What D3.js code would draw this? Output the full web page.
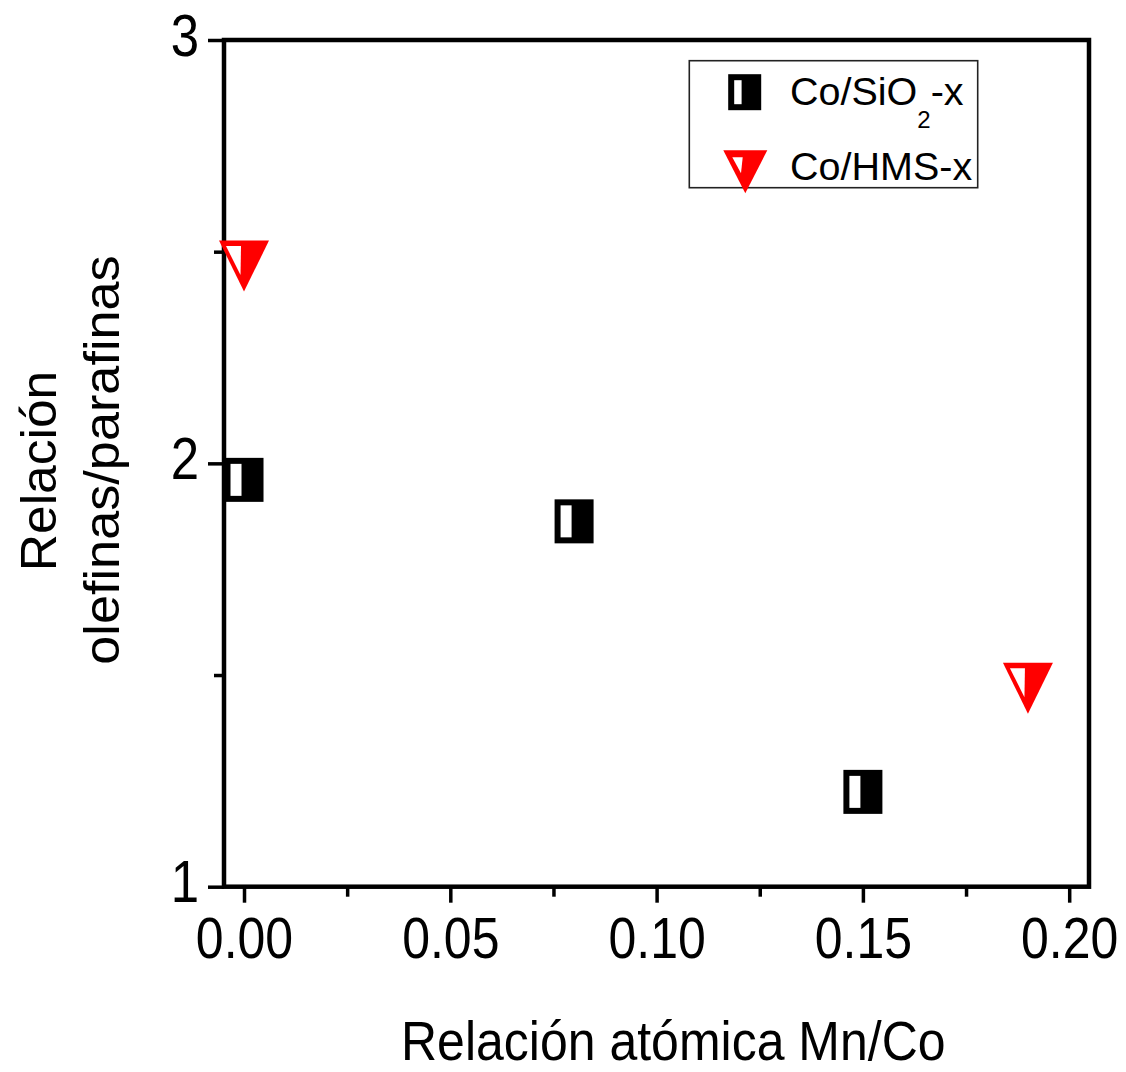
<!DOCTYPE html>
<html>
<head>
<meta charset="utf-8">
<script src="https://cdn.jsdelivr.net/npm/d3@7"></script>
<style>
  html, body { margin: 0; padding: 0; background: #ffffff; }
  svg { display: block; }
  text { font-family: "Liberation Sans", Arial, sans-serif; fill: #000; }
</style>
</head>
<body>
<svg id="chart" width="1126" height="1072"></svg>
<script>
// ---------------- data ----------------
const seriesNames = ["Co/SiO2-x", "Co/HMS-x"];
const sio2X = [0.00, 0.08, 0.15];
const sio2Y = [1.961, 1.863, 1.224];
const hmsX = [0.00, 0.19];
const hmsY = [2.466, 1.469];
const xMajorTicks = [0.00, 0.05, 0.10, 0.15, 0.20];
const xMinorTicks = [0.025, 0.075, 0.125, 0.175];
const yMajorTicks = [1, 2, 3];
const yMinorTicks = [1.5, 2.5];
const xTitle = "Relación atómica Mn/Co";
const yTitleLines = ["Relación", "olefinas/parafinas"];

// ---------------- layout ----------------
const svg = d3.select("#chart");
const L = 224, R = 1089, T = 40, B = 886.7;
const x = d3.scaleLinear().domain([-0.00485, 0.2048]).range([L, R]);
const y = d3.scaleLinear().domain([1, 3]).range([B, T]);

svg.append("rect").attr("width", 1126).attr("height", 1072).attr("fill", "#fff");

// x axis major
const gx = svg.append("g").attr("transform", `translate(0,${B})`)
  .call(d3.axisBottom(x).tickValues(xMajorTicks).tickFormat(d3.format(".2f")).tickSize(16).tickSizeOuter(0));
gx.select(".domain").remove();
gx.selectAll(".tick line").attr("stroke", "#000").attr("stroke-width", 3.5);
gx.selectAll(".tick text")
  .attr("y", null).attr("dy", null)
  .attr("transform", "translate(0,71.6) scale(1,1.15)")
  .attr("font-size", 50).attr("font-family", "Liberation Sans, Arial, sans-serif")
  .attr("fill", "#000").attr("text-anchor", "middle");

// x axis minor
const gxm = svg.append("g").attr("transform", `translate(0,${B})`)
  .call(d3.axisBottom(x).tickValues(xMinorTicks).tickFormat("").tickSize(10).tickSizeOuter(0));
gxm.select(".domain").remove();
gxm.selectAll(".tick line").attr("stroke", "#000").attr("stroke-width", 3.5);

// y axis major
const gy = svg.append("g").attr("transform", `translate(${L},0)`)
  .call(d3.axisLeft(y).tickValues(yMajorTicks).tickFormat(d3.format("d")).tickSize(16).tickSizeOuter(0));
gy.select(".domain").remove();
gy.selectAll(".tick line").attr("stroke", "#000").attr("stroke-width", 3.5);
gy.selectAll(".tick text")
  .attr("x", null).attr("dy", null)
  .attr("transform", "translate(-25,15) scale(1,1.15)")
  .attr("font-size", 51).attr("font-family", "Liberation Sans, Arial, sans-serif")
  .attr("fill", "#000").attr("text-anchor", "end");

// y axis minor
const gym = svg.append("g").attr("transform", `translate(${L},0)`)
  .call(d3.axisLeft(y).tickValues(yMinorTicks).tickFormat("").tickSize(10).tickSizeOuter(0));
gym.select(".domain").remove();
gym.selectAll(".tick line").attr("stroke", "#000").attr("stroke-width", 3.5);

// frame
svg.append("rect")
  .attr("x", L).attr("y", T).attr("width", R - L).attr("height", B - T)
  .attr("fill", "none").attr("stroke", "#000").attr("stroke-width", 4.5);

// ---------------- marker helpers ----------------
function halfSquare(g, cx, cy, w, h, bw, iw) {
  g.append("rect").attr("x", cx - w / 2).attr("y", cy - h / 2)
    .attr("width", w).attr("height", h).attr("fill", "#000");
  g.append("rect").attr("x", cx - w / 2 + bw).attr("y", cy - h / 2 + bw)
    .attr("width", iw).attr("height", h - 2 * bw).attr("fill", "#fff");
}
function halfTriangle(g, cx, cy, w, h, inner) {
  g.append("path")
    .attr("d", `M${cx - w / 2},${cy - h / 2}L${cx + w / 2},${cy - h / 2}L${cx},${cy + h / 2}Z`)
    .attr("fill", "#ff0000");
  g.append("path")
    .attr("d", `M${cx + inner[0][0]},${cy + inner[0][1]}L${cx + inner[1][0]},${cy + inner[1][1]}L${cx + inner[2][0]},${cy + inner[2][1]}Z`)
    .attr("fill", "#fff");
}

// ---------------- data marks ----------------
const gm = svg.append("g");
sio2X.forEach((v, i) => halfSquare(gm, x(v), y(sio2Y[i]), 39, 44, 6, 11));
hmsX.forEach((v, i) => halfTriangle(gm, x(v), y(hmsY[i]), 50, 51, [[-18, -20], [-3, -20], [-3.5, 9]]));

// ---------------- legend ----------------
const lg = svg.append("g");
lg.append("rect").attr("x", 689.3).attr("y", 60.7).attr("width", 288.4).attr("height", 127)
  .attr("fill", "#fff").attr("stroke", "#222").attr("stroke-width", 1.6);
halfSquare(lg, 744.7, 92.2, 33, 36, 6, 7.4);
halfTriangle(lg, 745.3, 171.7, 44, 43, [[-13, -14.4], [-2.6, -14.4], [-4.3, 1.6]]);
const t1 = lg.append("text").attr("x", 790).attr("y", 105).attr("font-size", 39.5);
t1.append("tspan").text("Co/SiO");
t1.append("tspan").attr("font-size", 24).attr("dy", 23).text("2");
t1.append("tspan").attr("dy", -23).text("-x");
lg.append("text").attr("x", 790).attr("y", 180).attr("font-size", 39.5).text("Co/HMS-x");

// ---------------- axis titles ----------------
svg.append("text")
  .attr("transform", "translate(401,1060) scale(1,1.12)")
  .attr("font-size", 50).attr("text-anchor", "start").text(xTitle);

svg.append("text")
  .attr("transform", "translate(56,471) rotate(-90) scale(1.03,1)")
  .attr("font-size", 50).attr("text-anchor", "middle").text(yTitleLines[0]);
svg.append("text")
  .attr("transform", "translate(119,460) rotate(-90) scale(1.045,1)")
  .attr("font-size", 50).attr("text-anchor", "middle").text(yTitleLines[1]);
</script>
</body>
</html>
